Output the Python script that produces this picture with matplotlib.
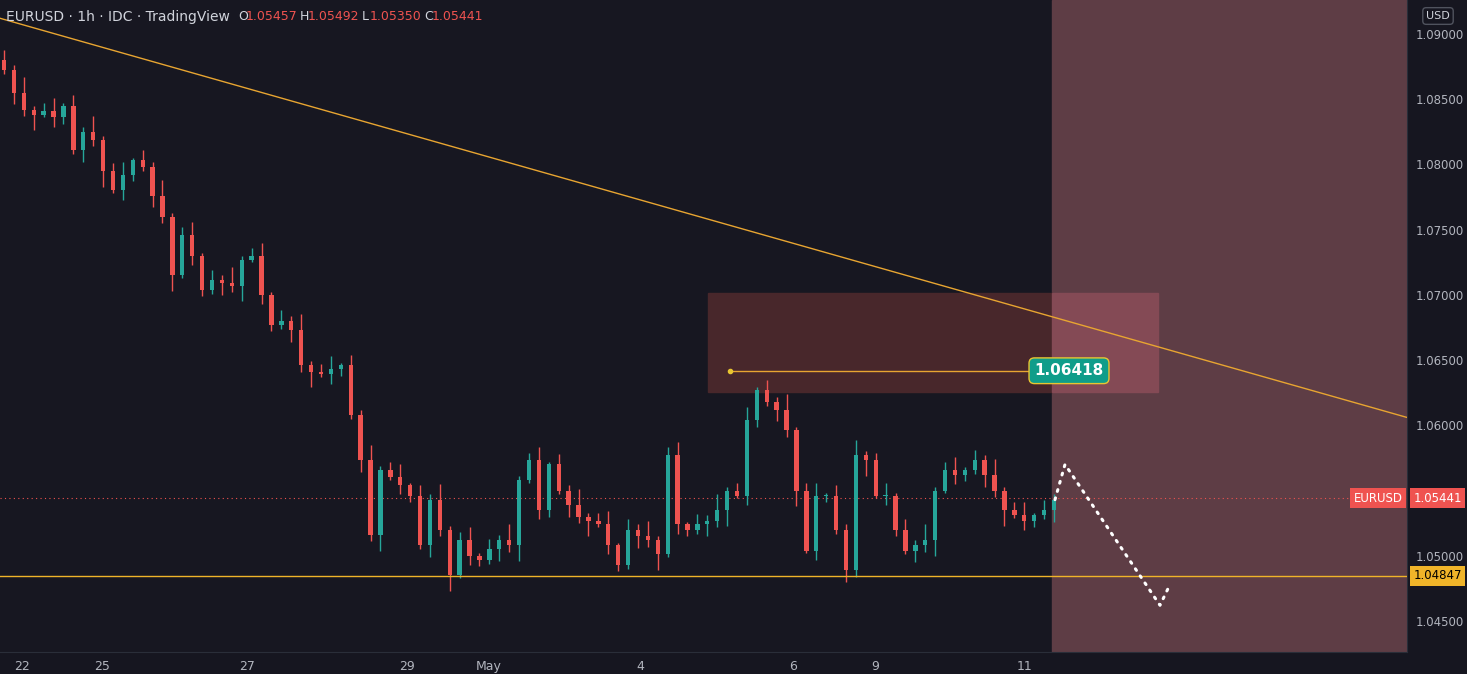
import matplotlib
matplotlib.use("Agg")
import matplotlib.pyplot as plt
from matplotlib.patches import Rectangle

closes = [1.0872,1.0855,1.0842,1.0838,1.0841,1.0836,1.0845,1.0811,1.0825,1.0819,1.0795,1.0780,1.0792,1.0803,1.0798,1.0776,1.0760,1.0715,1.0746,1.0730,1.0704,1.0711,1.0709,1.0707,1.0727,1.0730,1.0700,1.0677,1.0680,1.0673,1.0646,1.0641,1.0639,1.0643,1.0646,1.0608,1.0573,1.0516,1.0566,1.0560,1.0554,1.0546,1.0508,1.0543,1.0520,1.0485,1.0512,1.0500,1.0497,1.0505,1.0512,1.0508,1.0558,1.0573,1.0535,1.0570,1.0550,1.0539,1.0530,1.0527,1.0524,1.0508,1.0493,1.0520,1.0515,1.0512,1.0501,1.0577,1.0524,1.0520,1.0524,1.0527,1.0535,1.0550,1.0546,1.0604,1.0627,1.0618,1.0612,1.0596,1.0550,1.0504,1.0546,1.0546,1.0520,1.0489,1.0577,1.0573,1.0546,1.0546,1.0520,1.0504,1.0508,1.0512,1.0550,1.0566,1.0562,1.0566,1.0573,1.0562,1.0550,1.0535,1.0531,1.0527,1.0531,1.0535,1.0543]
first_open = 1.0880
wick_up = [0.0008, 0.0004, 0.0012, 0.0003, 0.0006, 0.0010, 0.0002]
wick_dn = [0.0003, 0.0009, 0.0005, 0.0012, 0.0002, 0.0007, 0.0005]
tick_labels = ["22", "25", "27", "29", "May", "4", "6", "9", "11"]
tick_pos = [22, 102, 247, 407, 489, 640, 793, 875, 1025]
price_ticks = [1.045, 1.050, 1.055, 1.060, 1.065, 1.070, 1.075, 1.080, 1.085, 1.090]
last_price = 1.05441
support = 1.04847
target_price = 1.06418
zone = (1.06255, 1.07014)
trend = [(0, 1.0912), (1407, 1.0606)]
proj = [(1055, 1.0543), (1065, 1.0570), (1160, 1.0462), (1170, 1.0478)]

BG = "#161620"
UP, DN = "#26a69a", "#ef5350"
fig = plt.figure(figsize=(14.67, 6.74), dpi=100, facecolor=BG)
ax = fig.add_axes([0, 22/674, 1407/1467, 652/674])
ax.set_facecolor("#171721")
ax.set_xlim(0, 1407)
ax.set_ylim(1.04262, 1.0926)

ax.add_patch(Rectangle((1052, 1.04262), 355, 0.05, color="#5e3d45", zorder=0))
ax.add_patch(Rectangle((708, zone[0]), 344, zone[1]-zone[0], color="#48272b", zorder=1))
ax.add_patch(Rectangle((1052, zone[0]), 106, zone[1]-zone[0], color="#844a55", zorder=1))

n = len(closes)
step = 1050 / (n - 1)
prev = first_open
for i, c in enumerate(closes):
    o = prev
    x = 4 + i * step
    col = UP if c >= o else DN
    hi = max(o, c) + wick_up[i % 7]
    lo = min(o, c) - wick_dn[i % 7]
    ax.vlines(x, lo, hi, color=col, lw=1, zorder=3)
    ax.add_patch(Rectangle((x - step*0.22, min(o, c)), step*0.44, max(abs(c-o), 0.00005), color=col, zorder=4, lw=0))
    prev = c

ax.plot([p[0] for p in trend], [p[1] for p in trend], color="#e8a531", lw=1, zorder=5)
ax.axhline(support, color="#f0b429", lw=1, zorder=5)
ax.axhline(last_price, color=DN, lw=0.8, ls=(0, (1, 3)), zorder=2)
ax.plot([730, 1030], [target_price, target_price], color="#e8a531", lw=1, zorder=5)
ax.plot(730, target_price, "o", ms=3, color="#e8c531", zorder=6)
ax.text(1069, target_price, "1.06418", color="white", fontsize=11, fontweight="bold", ha="center", va="center", zorder=7,
        bbox=dict(boxstyle="round,pad=0.35", fc="#0f9d8a", ec="#e8c531", lw=1))
ax.plot([p[0] for p in proj], [p[1] for p in proj], color="white", lw=2.2, ls=(0, (0.6, 2.2)), dash_capstyle="round", zorder=6)

ax.set_xticks(tick_pos)
ax.set_xticklabels(tick_labels, color="#b2b5be", fontsize=9)
ax.yaxis.tick_right()
ax.set_yticks(price_ticks)
ax.set_yticklabels([f"{p:.5f}" if p != 1.055 else "" for p in price_ticks], color="#b2b5be", fontsize=8.5)
ax.tick_params(length=0, pad=6)
for s in ["top", "left"]:
    ax.spines[s].set_visible(False)
ax.spines["right"].set_color("#2a2e39")
ax.spines["bottom"].set_color("#2a2e39")

yr = 1.0926 - 1.04262
ax.text(1.0045, (last_price-1.04262)/yr, "1.05441", transform=ax.transAxes, color="white", fontsize=8.5, va="center", zorder=10,
        bbox=dict(boxstyle="square,pad=0.3", fc=DN, ec="none"))
ax.text(0.962, (last_price-1.04262)/yr, "EURUSD", transform=ax.transAxes, color="white", fontsize=8.5, va="center", zorder=10,
        bbox=dict(boxstyle="square,pad=0.3", fc=DN, ec="none"))
ax.text(1.0045, (support-1.04262)/yr, "1.04847", transform=ax.transAxes, color="black", fontsize=8.5, va="center", zorder=10,
        bbox=dict(boxstyle="square,pad=0.3", fc="#f0b429", ec="none"))
fig.text(1438/1467, 1-16/674, "USD", color="#d1d4dc", fontsize=8, ha="center", va="center",
         bbox=dict(boxstyle="round,pad=0.3", fc=BG, ec="#50535e"))

fig.text(6/1467, 1-17/674, "EURUSD · 1h · IDC · TradingView", color="#d1d4dc", fontsize=10, va="center")
vals = [("O", "1.05457"), ("H", "1.05492"), ("L", "1.05350"), ("C", "1.05441")]
xp = 238
for k, v in vals:
    fig.text(xp/1467, 1-17/674, k, color="#d1d4dc", fontsize=9, va="center")
    fig.text((xp+8)/1467, 1-17/674, v, color=DN, fontsize=9, va="center")
    xp += 62
fig.savefig("out.png", dpi=100, facecolor=BG)
